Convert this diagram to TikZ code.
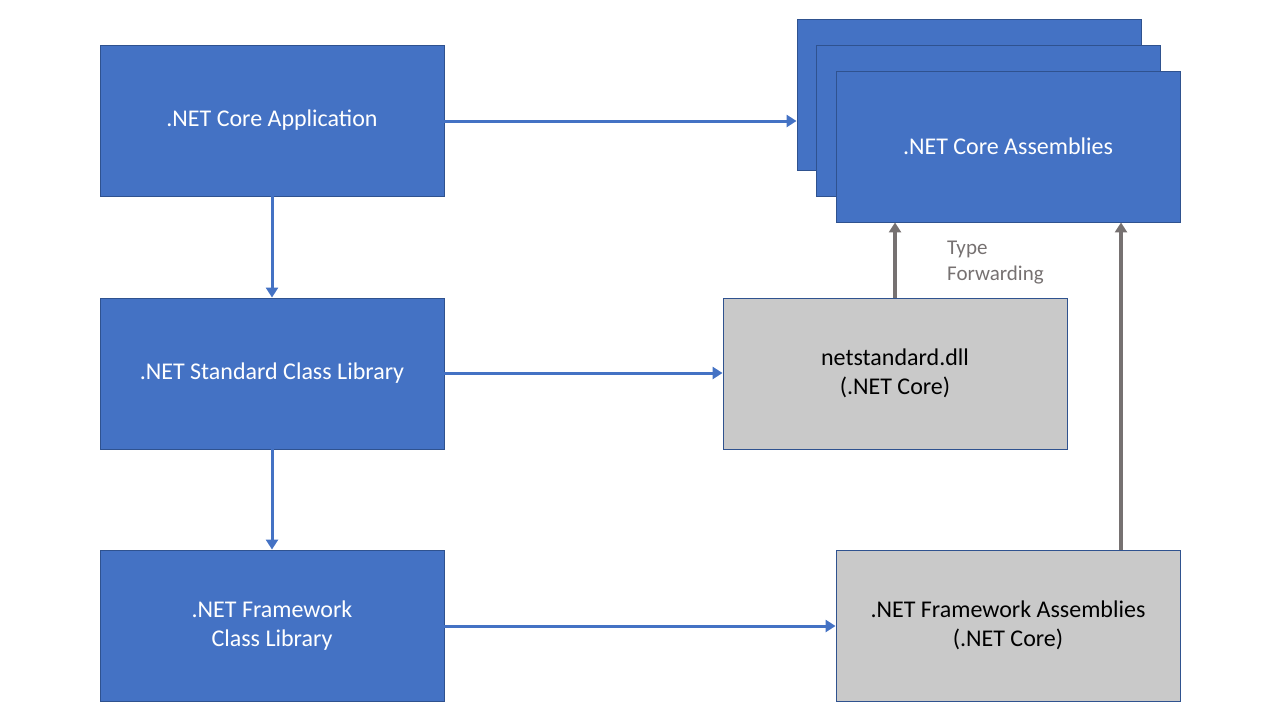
\documentclass[tikz,border=0pt]{standalone}
\usepackage{fontspec}
\setmainfont{Carlito}
\usetikzlibrary{arrows.meta}
\definecolor{boxblue}{HTML}{4472C4}
\definecolor{edgeblue}{HTML}{2F528F}
\definecolor{boxgray}{HTML}{C9C9C9}
\definecolor{arrgray}{HTML}{767171}
\begin{document}
\begin{tikzpicture}[x=1pt,y=-1pt,
  bluebox/.style={draw=edgeblue,line width=0.9pt,fill=boxblue,text=white,minimum width=344pt,minimum height=151pt,inner sep=0pt,align=center,font=\fontsize{24}{29.5}\selectfont},
  graybox/.style={bluebox,fill=boxgray,text=black},
  bluearrow/.style={draw=boxblue,line width=3pt,-{Triangle[length=10pt,width=12pt]}},
  grayarrow/.style={draw=arrgray,line width=3.5pt,-{Triangle[length=10pt,width=12pt]}}]
\useasboundingbox (0,0) rectangle (1280,720);
\node[bluebox] (app) at (272,120.5) {.NET Core Application};
\node[bluebox] (std) at (272,373.5) {.NET Standard Class Library};
\node[bluebox] (fw) at (272,625.5) {.NET Framework\\Class Library};
\node[bluebox] (core3) at (969,94.5) {};
\node[bluebox] (core2) at (988,120.5) {};
\node[bluebox] (core1) at (1008,146.5) {.NET Core Assemblies};
\node[graybox] (ns) at (895,373.5) {netstandard.dll\\(.NET Core)};
\node[graybox] (fa) at (1008,625.5) {.NET Framework Assemblies\\(.NET Core)};
\node[anchor=north west,text=arrgray,align=left,inner sep=0pt,font=\fontsize{21}{26}\selectfont] (tf) at (947,241) {Type\\Forwarding};
\draw[bluearrow] (app.east |- 0,121) -- (core3.west |- 0,121);
\draw[bluearrow] (app.south) -- (std.north);
\draw[bluearrow] (std.south) -- (fw.north);
\draw[bluearrow] (std.east |- 0,373) -- (ns.west |- 0,373);
\draw[bluearrow] (fw.east |- 0,626) -- (fa.west |- 0,626);
\draw[grayarrow] (ns.north) -- (ns.north |- core1.south);
\coordinate (faup) at (1121,550);
\draw[grayarrow] (faup) -- (faup |- core1.south);
\end{tikzpicture}
\end{document}
